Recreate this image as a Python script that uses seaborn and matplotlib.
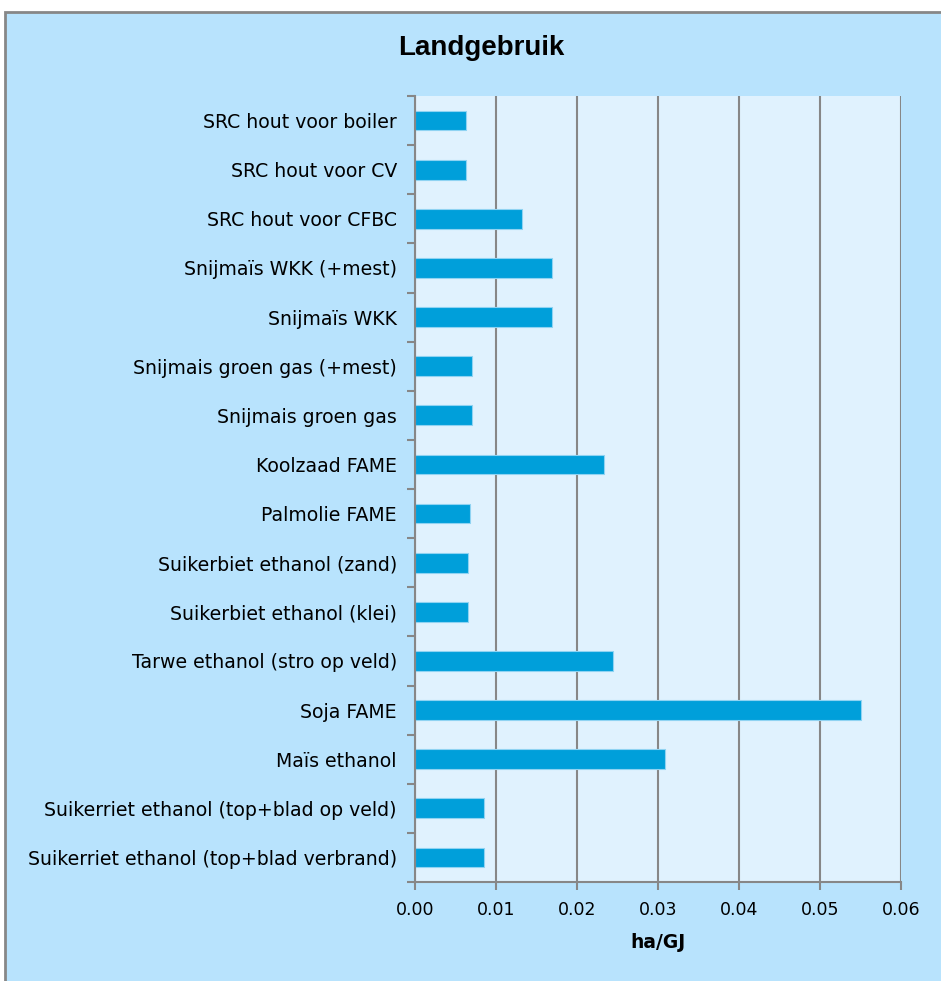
import matplotlib
matplotlib.use("Agg")
import matplotlib.pyplot as plt
import matplotlib.ticker as mticker
from matplotlib.patches import Rectangle
import seaborn as sns
import numpy as np
import pandas as pd

# Gewassen / routes (van boven naar beneden)
routes = [
    "SRC hout voor boiler",
    "SRC hout voor CV",
    "SRC hout voor CFBC",
    "Snijmaïs WKK (+mest)",
    "Snijmaïs WKK",
    "Snijmais groen gas (+mest)",
    "Snijmais groen gas",
    "Koolzaad FAME",
    "Palmolie FAME",
    "Suikerbiet ethanol (zand)",
    "Suikerbiet ethanol (klei)",
    "Tarwe ethanol (stro op veld)",
    "Soja FAME",
    "Maïs ethanol",
    "Suikerriet ethanol (top+blad op veld)",
    "Suikerriet ethanol (top+blad verbrand)",
]
# Landgebruik in ha/GJ
landgebruik = [0.0063, 0.0063, 0.0132, 0.0169, 0.0169, 0.0070, 0.0070, 0.0233,
               0.0068, 0.0065, 0.0065, 0.0244, 0.0551, 0.0309, 0.0085, 0.0085]
xticks = [0.00, 0.01, 0.02, 0.03, 0.04, 0.05, 0.06]

df = pd.DataFrame({"route": routes, "ha_gj": landgebruik})

sns.set_style("white")
plt.rcParams["font.family"] = ["DejaVu Sans"]
plt.rcParams["text.color"] = "black"
plt.rcParams["xtick.labelcolor"] = "black"
plt.rcParams["ytick.labelcolor"] = "black"
plt.rcParams["axes.labelcolor"] = "black"

grijs = "#878787"
fig = plt.figure(figsize=(9.41, 9.81), dpi=100, facecolor="white")

# Lichtblauwe achtergrond met grijze rand
fig.patches.append(Rectangle((5 / 941, -0.05), 1.05, 1 - 12 / 981 + 0.05,
                             transform=fig.transFigure, facecolor="#b8e3fd",
                             edgecolor=grijs, linewidth=2, zorder=-5))

ax = fig.add_axes([415 / 941, 1 - 882 / 981, (901 - 415) / 941, (882 - 96) / 981])
ax.set_facecolor("#e0f2fe")

sns.barplot(data=df, x="ha_gj", y="route", orient="h", color="#009fda",
            width=0.4, edgecolor="#8fd3f2", linewidth=0.8, saturation=1, ax=ax)

ax.set_xlim(0, 0.06)
ax.set_ylim(len(routes) - 0.5, -0.5)
ax.set_xticks(xticks)
ax.xaxis.set_major_formatter(mticker.FormatStrFormatter("%.2f"))
ax.grid(axis="x", color=grijs, linewidth=1.5)
ax.set_axisbelow(True)

for s in ["top", "right"]:
    ax.spines[s].set_visible(False)
for s in ["left", "bottom"]:
    ax.spines[s].set_color(grijs)
    ax.spines[s].set_linewidth(1.5)

# Excel-stijl: streepjes tussen categorieën
ax.yaxis.set_minor_locator(mticker.FixedLocator(np.arange(-0.5, len(routes), 1)))
ax.tick_params(axis="y", which="major", left=True, length=0, pad=13, labelsize=13.6)
ax.tick_params(axis="y", which="minor", left=True, length=6, width=1.5,
               color=grijs, direction="out")
ax.tick_params(axis="x", which="major", bottom=True, length=6, width=1.5, color=grijs,
               direction="out", pad=8, labelsize=12.5)

ax.set_ylabel("")
ax.set_xlabel("ha/GJ", fontsize=13.5, fontweight="bold", labelpad=10)
fig.text(481 / 941, 1 - 48 / 981, "Landgebruik", ha="center", va="center",
         fontsize=20, fontweight="bold", family=["Liberation Sans", "DejaVu Sans"])

fig.savefig("out.png", dpi=100, facecolor="white")
